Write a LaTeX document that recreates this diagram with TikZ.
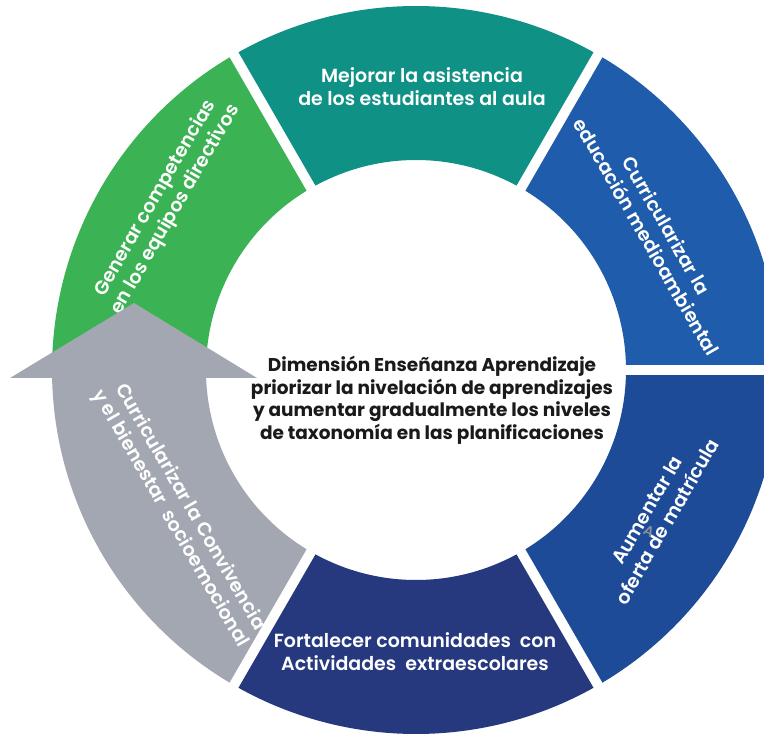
\documentclass[tikz,border=0pt]{standalone}
\usepackage{fontspec}
\usetikzlibrary{calc}
\setmainfont{Poppins}[UprightFont=*-SemiBold, BoldFont=*-Bold]
\definecolor{cteal}{HTML}{0F9186}
\definecolor{cgreen}{HTML}{3BB253}
\definecolor{cblueA}{HTML}{1F5CAB}
\definecolor{cblueB}{HTML}{1D4B98}
\definecolor{cnavy}{HTML}{26397F}
\definecolor{cgray}{HTML}{A3A7B1}
\definecolor{cdark}{HTML}{1A1A1A}
\newcommand\ringsector[3]{\fill[#1] (#2:\ro) arc[start angle=#2,end angle=#3,radius=\ro] -- (#3:\ri) arc[start angle=#3,end angle=#2,radius=\ri] -- cycle;}
\def\ri{210}
\def\ro{364}
\tikzset{
  segtxt/.style={text=white, align=center, font=\fontsize{19}{23}\selectfont, inner sep=0pt},
  midtxt/.style={text=cdark, align=center, font=\bfseries\fontsize{18.5}{22.5}\selectfont, inner sep=0pt},
  gapline/.style={white, line width=10pt}
}
\begin{document}
\begin{tikzpicture}[x=1pt,y=1pt]
\useasboundingbox (-416,-366) rectangle (348,370);
\clip (-416,-366) rectangle (348,370);
\ringsector{cteal}{60}{120}
\ringsector{cgreen}{120}{180}
\ringsector{cblueA}{0}{60}
\ringsector{cblueB}{-60}{0}
\ringsector{cnavy}{-120}{-60}
\ringsector{cgray}{180}{240}
\foreach \a in {0,60,120,240,300} {\draw[gapline] (\a:195) -- (\a:380);}
% texts
\node[segtxt] (t1) at (6,283) {Mejorar la asistencia\\de los estudiantes al aula};
\node[segtxt, rotate=-60] (t2) at (30:278) {Curricularizar la\\educación medioambiental};
\node[segtxt, rotate=60] (t3) at ($(-31:287)+(-5,2)$) {Aumentar la\\oferta de matrícula};
\node[segtxt] (t4) at (-1,-282) {Fortalecer comunidades\ \ con\\Actividades\ \ extraescolares};
\node[segtxt, rotate=60] (t6) at ($(148:300)+(4,7)$) {Generar competencias\\en los equipos directivos};
\node[segtxt, rotate=-60] (t5) at ($(210:276)+(3,-5)$) {Curricularizar la Convivencia\\y el bienestar\ \ socioemocional};
% arrow head of the gray segment
\fill[cgray] (-406,-8) -- (-282,67) -- (-159,-8) -- cycle;
\node[text=cgray!85!black, rotate=-25, font=\fontsize{14}{14}\selectfont, inner sep=0pt] (stray) at (233,-161) {A};
\node[midtxt] (c) at (16,-30) {Dimensión Enseñanza Aprendizaje\\priorizar la nivelación de aprendizajes\\y aumentar gradualmente los niveles\\de taxonomía en las planificaciones};
\end{tikzpicture}
\end{document}
